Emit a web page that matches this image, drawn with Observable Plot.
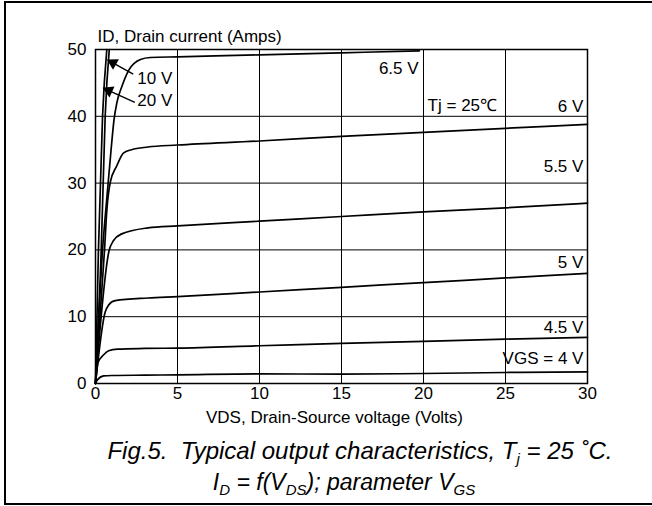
<!DOCTYPE html>
<html><head><meta charset="utf-8">
<script src="https://cdn.jsdelivr.net/npm/d3@7"></script>
<script src="https://cdn.jsdelivr.net/npm/@observablehq/plot@0.6"></script>
<style>
body{margin:0;background:#fff;font-family:"Liberation Sans",Arial,sans-serif;width:652px;height:506px;overflow:hidden;position:relative}
#border{position:absolute;left:4px;top:1px;width:680px;height:504px;border:2.5px solid #000;box-sizing:border-box}
#chart{position:absolute;left:0;top:0}
.cap{position:absolute;text-align:center;font-style:italic;color:#000;white-space:nowrap}
#cap1{left:0;top:436px;width:720px;font-size:24px;line-height:30px}
#cap2{left:0;top:467px;width:688px;font-size:23px;line-height:30px}
.cap sub{font-size:15px;vertical-align:-5px;line-height:0}
</style></head>
<body>
<div id="border"></div>
<div id="chart"></div>
<div class="cap" id="cap1">Fig.5.&nbsp; Typical output characteristics, T<sub>j</sub> = 25 ˚C.</div>
<div class="cap" id="cap2">I<sub>D</sub> = f(V<sub>DS</sub>); parameter V<sub>GS</sub></div>
<script>
// ---- data ----
const xTicks = [0, 5, 10, 15, 20, 25, 30];
const yTicks = [0, 10, 20, 30, 40, 50];
const gridXv = [5, 10, 15, 20, 25];
const gridYv = [10, 20, 30, 40];

const vgs4_x  = [0, 0.1, 0.5, 1, 3, 5, 10, 15, 20, 25, 30];
const vgs4_y  = [0, 0.5, 1.15, 1.2, 1.25, 1.3, 1.45, 1.4, 1.5, 1.65, 1.75];
const vgs45_x = [0, 0.15, 0.5, 0.8, 1.35, 3, 5, 10, 15, 20, 25, 30];
const vgs45_y = [0, 3.1, 4.3, 4.9, 5.15, 5.25, 5.3, 5.65, 6.0, 6.3, 6.65, 6.9];
const vgs5_x  = [0, 0.59, 0.79, 1.2, 3.2, 5, 10, 15, 20, 25, 30];
const vgs5_y  = [0, 10.7, 11.7, 12.4, 12.8, 13.0, 13.7, 14.4, 15.1, 15.8, 16.5];
const vgs55_x = [0, 0.83, 1.1, 1.6, 3.2, 5, 10, 15, 20, 25, 30];
const vgs55_y = [0, 19.9, 21.4, 22.4, 23.3, 23.6, 24.3, 25.0, 25.7, 26.3, 27.0];
const vgs6_x  = [0, 0.55, 0.69, 0.9, 1.3, 1.7, 2.2, 3.2, 5, 10, 15, 20, 25, 30];
const vgs6_y  = [0, 20, 25.9, 30.1, 32.6, 34.5, 35.0, 35.4, 35.7, 36.3, 37.0, 37.6, 38.2, 38.8];
const vgs65_x = [0, 0.43, 0.7, 0.95, 1.13, 1.3, 1.63, 2.03, 2.74, 3.35, 5, 10, 15, 19.75];
const vgs65_y = [0, 20, 28, 35, 39.5, 42, 44.6, 46.9, 48.5, 48.8, 48.9, 49.2, 49.5, 49.8];
const vgs10_x = [0, 0.35, 0.59, 0.84];
const vgs10_y = [0, 20, 40, 50];
const vgs20_x = [0, 0.18, 0.43, 0.69];
const vgs20_y = [0, 20, 40, 50];

const curveLabels = ["6.5 V", "6 V", "5.5 V", "5 V", "4.5 V", "VGS = 4 V"];
const curveLabelX = [19.7, 29.75, 29.75, 29.75, 29.75, 29.75];
const curveLabelY = [47.2, 41.4, 32.5, 18.1, 8.4, 3.7];

const arrowLabels = ["10 V", "20 V"];
const arrowLabelX = [2.55, 2.55];
const arrowLabelY = [45.7, 42.4];
const arrowTailX = [2.3, 2.4];
const arrowTailY = [46.3, 42.1];
const arrowHeadX = [0.85, 0.59];
const arrowHeadY = [48.3, 44.1];

const tempLabel = ["Tj = 25℃"];
const tempLabelX = [20.25];
const tempLabelY = [41.6];

const yAxisLabel = "ID, Drain current (Amps)";
const xAxisLabel = "VDS, Drain-Source voltage (Volts)";

// ---- build table ----
const series = [
  ["4", vgs4_x, vgs4_y], ["4.5", vgs45_x, vgs45_y], ["5", vgs5_x, vgs5_y],
  ["5.5", vgs55_x, vgs55_y], ["6", vgs6_x, vgs6_y], ["6.5", vgs65_x, vgs65_y],
  ["10", vgs10_x, vgs10_y], ["20", vgs20_x, vgs20_y]
];
const rows = series.flatMap(([name, xs, ys]) => xs.map((x, i) => ({vgs: name, x, y: ys[i]})));

const W = 652, H = 420, ML = 95, MR = 65, MT = 49, MB = 37;
const xScale = d3.scaleLinear([0, 30], [ML, W - MR]);
const yScale = d3.scaleLinear([0, 50], [H - MB, MT]);
// arrow shafts and filled heads, oriented from the data
const arrows = arrowTailX.map((_, i) => {
  const dx = xScale(arrowHeadX[i]) - xScale(arrowTailX[i]);
  const dy = yScale(arrowHeadY[i]) - yScale(arrowTailY[i]);
  const len = Math.hypot(dx, dy);
  const back = 4; // centroid of the head sits a little behind the tip
  return {
    x1: arrowTailX[i], y1: arrowTailY[i], x2: arrowHeadX[i], y2: arrowHeadY[i],
    hx: xScale.invert(xScale(arrowHeadX[i]) - dx / len * back),
    hy: yScale.invert(yScale(arrowHeadY[i]) - dy / len * back),
    rot: Math.atan2(dx, -dy) * 180 / Math.PI
  };
});

const chart = Plot.plot({
  width: W, height: H,
  marginLeft: ML, marginRight: MR, marginTop: MT, marginBottom: MB,
  style: {fontFamily: "'Liberation Sans', Arial, sans-serif", fontSize: "17px", color: "#000", background: "transparent", overflow: "visible"},
  x: {domain: [0, 30], ticks: xTicks, tickSize: 0, tickPadding: 3, label: null},
  y: {domain: [0, 50], ticks: yTicks, tickSize: 0, tickPadding: 9, label: null},
  marks: [
    Plot.ruleX(gridXv, {stroke: "#000", strokeWidth: 1}),
    Plot.ruleY(gridYv, {stroke: "#000", strokeWidth: 1}),
    Plot.frame({stroke: "#000", strokeWidth: 1.5}),
    Plot.line(rows, {x: "x", y: "y", z: "vgs", stroke: "#000", strokeWidth: 1.7, curve: "monotone-x"}),
    Plot.text(curveLabels, {x: curveLabelX, y: curveLabelY, text: d => d, textAnchor: "end", fill: "#000"}),
    Plot.text(tempLabel, {x: tempLabelX, y: tempLabelY, text: d => d, textAnchor: "start", fill: "#000"}),
    Plot.text(arrowLabels, {x: arrowLabelX, y: arrowLabelY, text: d => d, textAnchor: "start", fill: "#000"}),
    Plot.link(arrows, {x1: "x1", y1: "y1", x2: "hx", y2: "hy", stroke: "#000", strokeWidth: 1.4}),
    Plot.dot(arrows, {x: "hx", y: "hy", symbol: "triangle", r: 4.5, rotate: "rot", fill: "#000", stroke: "none"}),
    Plot.text([yAxisLabel], {frameAnchor: "top-left", dx: 2, dy: -13, lineAnchor: "middle", textAnchor: "start", fill: "#000"}),
    Plot.text([xAxisLabel], {frameAnchor: "bottom", dx: -7, dy: 34, lineAnchor: "middle", fill: "#000"})
  ]
});
document.getElementById("chart").appendChild(chart);
</script>
</body></html>
